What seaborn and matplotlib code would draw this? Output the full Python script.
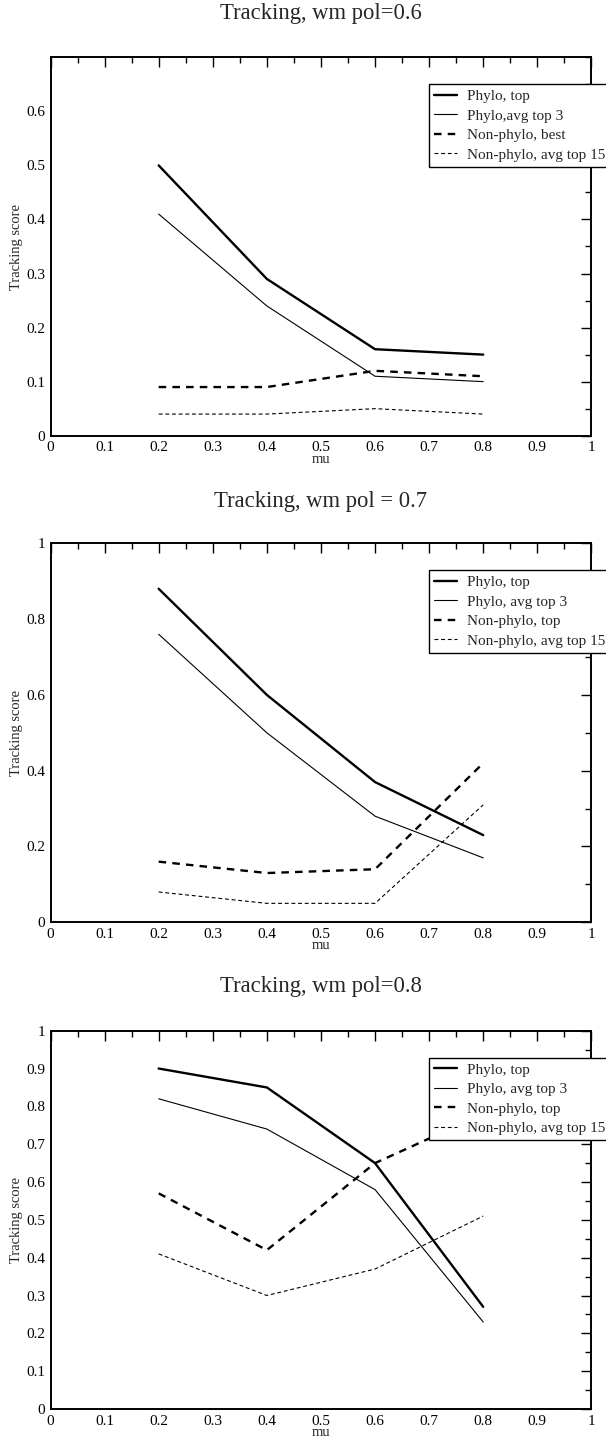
import numpy as np
import matplotlib
matplotlib.use('Agg')
import matplotlib.pyplot as plt
from matplotlib.ticker import MultipleLocator, FuncFormatter
import pandas as pd
import seaborn as sns

# x values (mu)
mu = [0.2, 0.4, 0.6, 0.8]

# panel 1, wm pol=0.6
p1_phylo_top = [0.50, 0.29, 0.16, 0.15]
p1_phylo_avg3 = [0.41, 0.24, 0.11, 0.10]
p1_non_best = [0.09, 0.09, 0.12, 0.11]
p1_non_avg15 = [0.04, 0.04, 0.05, 0.04]

# panel 2, wm pol = 0.7
p2_phylo_top = [0.88, 0.60, 0.37, 0.23]
p2_phylo_avg3 = [0.76, 0.50, 0.28, 0.17]
p2_non_top = [0.16, 0.13, 0.14, 0.42]
p2_non_avg15 = [0.08, 0.05, 0.05, 0.31]

# panel 3, wm pol=0.8
p3_phylo_top = [0.90, 0.85, 0.65, 0.27]
p3_phylo_avg3 = [0.82, 0.74, 0.58, 0.23]
p3_non_top = [0.57, 0.42, 0.65, 0.78]
p3_non_avg15 = [0.41, 0.30, 0.37, 0.51]

titles = ['Tracking, wm pol=0.6', 'Tracking, wm pol = 0.7', 'Tracking, wm pol=0.8']
labels1 = ['Phylo, top', 'Phylo,avg top 3', 'Non-phylo, best', 'Non-phylo, avg top 15']
labels23 = ['Phylo, top', 'Phylo, avg top 3', 'Non-phylo, top', 'Non-phylo, avg top 15']

sns.set_style('white')
plt.rcParams['font.family'] = ['Liberation Serif', 'DejaVu Serif']

W, H = 606, 1437
fig = plt.figure(figsize=(W / 100, H / 100), dpi=100)

# axes boxes in pixels: (top, bottom)
boxes = [(57.3, 435.7), (543.3, 922.3), (1030.7, 1409.0)]
title_base = [19.5, 507, 992]
left_px, right_px = 50.5, 591.4

styles = [
    dict(linewidth=1.7, linestyle='-'),
    dict(linewidth=0.8, linestyle='-'),
    dict(linewidth=1.7, linestyle=(0, (3.2, 2.6))),
    dict(linewidth=0.8, linestyle=(0, (3.5, 2.5))),
]

panels = [
    (p1_phylo_top, p1_phylo_avg3, p1_non_best, p1_non_avg15),
    (p2_phylo_top, p2_phylo_avg3, p2_non_top, p2_non_avg15),
    (p3_phylo_top, p3_phylo_avg3, p3_non_top, p3_non_avg15),
]
ylims = [0.7, 1.0, 1.0]
ymajor = [0.1, 0.2, 0.1]
yminor = [0.05, 0.1, 0.05]

fmt = FuncFormatter(lambda v, p: '%g' % round(v, 2))

for i, series in enumerate(panels):
    top, bot = boxes[i]
    ax = fig.add_axes([left_px / W, 1 - bot / H, (right_px - left_px) / W, (bot - top) / H])
    labels = labels1 if i == 0 else labels23
    for vals, st, lab in zip(series, styles, labels):
        df = pd.DataFrame({'mu': mu, 'score': vals})
        sns.lineplot(data=df, x='mu', y='score', ax=ax, color='black', label=lab, **st)

    ax.set_xlim(0, 1)
    ax.set_ylim(0, ylims[i])
    ax.xaxis.set_major_locator(MultipleLocator(0.1))
    ax.xaxis.set_minor_locator(MultipleLocator(0.05))
    ax.yaxis.set_major_locator(MultipleLocator(ymajor[i]))
    ax.yaxis.set_minor_locator(MultipleLocator(yminor[i]))
    if i == 0:
        ax.set_yticks(np.arange(0, 0.61, 0.1))
    ax.xaxis.set_major_formatter(fmt)
    ax.yaxis.set_major_formatter(fmt)
    ax.tick_params(which='both', direction='in', top=True, right=True, colors='black', labelsize=11)
    ax.tick_params(which='major', length=7.5, width=1.0, pad=4)
    ax.tick_params(which='minor', length=4, width=1.0)
    for s in ax.spines.values():
        s.set_linewidth(1.4)
        s.set_color('black')
    ax.set_xlabel('mu', fontsize=10.5, labelpad=-1)
    ax.set_ylabel('Tracking score', fontsize=10.5, labelpad=2)

    leg = ax.legend(loc='upper left', bbox_to_anchor=(0.70, 0.929), borderaxespad=0,
                    fontsize=11, frameon=True, fancybox=False, framealpha=1,
                    edgecolor='black', handlelength=1.45, handletextpad=0.7,
                    labelspacing=0.38, borderpad=0.35)
    leg.get_frame().set_linewidth(1.0)

    fig.text(321 / W, 1 - title_base[i] / H, titles[i], ha='center', va='baseline', fontsize=16.3)

fig.savefig('out.png', dpi=100)
